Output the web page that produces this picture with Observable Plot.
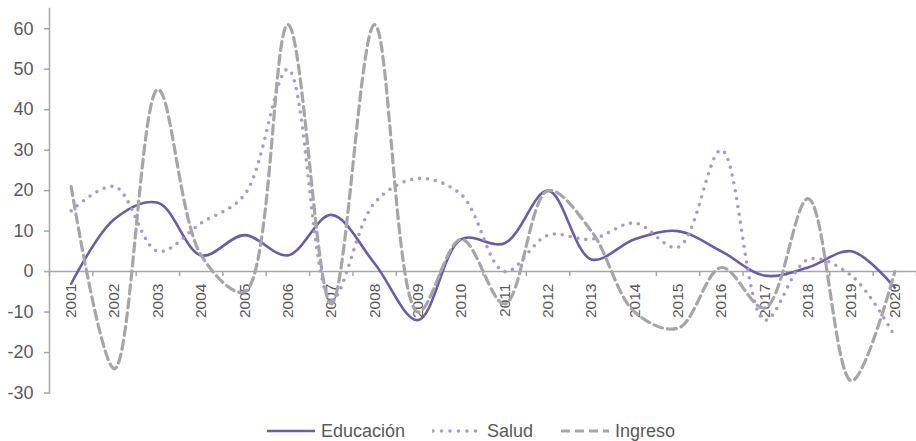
<!DOCTYPE html>
<html><head><meta charset="utf-8">
<script src="https://cdn.jsdelivr.net/npm/d3@7"></script>
<script src="https://cdn.jsdelivr.net/npm/@observablehq/plot@0.6"></script>
<style>
body{margin:0;background:#fff;font-family:"Liberation Sans",Arial,sans-serif;}
#legend{display:flex;justify-content:center;align-items:center;height:20px;margin-top:3px;font-size:18px;color:#595959;padding-left:25px}
.item{display:flex;align-items:center;margin-right:27px}
.item:last-child{margin-right:0}
.item svg{margin-right:5px}
</style></head><body>
<div id="chart"></div>
<div id="legend"></div>
<script>
const years = [2001,2002,2003,2004,2005,2006,2007,2008,2009,2010,2011,2012,2013,2014,2015,2016,2017,2018,2019,2020];
const educacion = [-3,13,17,4,9,4,14,2,-12,8,7,20,3,8,10,5,-1,1,5,-4];
const salud = [15,21,5,12,19,50,-7,17,23,19,0,9,8,12,6,30,-12,3,-1,-16];
const ingreso = [21,-24,45,4,-5,61,-8,61,-10,8,-8,20,10,-10,-14,1,-9,18,-27,0];
const yTicks = [-30,-20,-10,0,10,20,30,40,50,60];
const seriesNames = ["Educación","Salud","Ingreso"];
const seriesColors = ["#6b5ba8","#a999d3","#a6a6a8"];

const rows = [];
[educacion, salud, ingreso].forEach((vals, s) => {
  vals.forEach((v, i) => rows.push({serie: seriesNames[s], year: years[i], value: v}));
});
const boundaries = years.map(y => y - 0.5).concat([years[years.length-1] + 0.5]);
const axisGray = "#a6a6a6";
const textGray = "#595959";

const styles = {
  "Educación": {stroke: seriesColors[0], strokeWidth: 2.6},
  "Salud": {stroke: seriesColors[1], strokeWidth: 3.6, strokeDasharray: "0 8", strokeLinecap: "round"},
  "Ingreso": {stroke: seriesColors[2], strokeWidth: 3.2, strokeDasharray: "9 5"}
};

const plot = Plot.plot({
  width: 916, height: 418,
  marginLeft: 49, marginRight: 0, marginTop: 8, marginBottom: 25.5,
  x: {domain: [boundaries[0], boundaries[boundaries.length-1]], axis: null},
  y: {domain: [-30, 65], axis: null},
  style: {fontFamily: "'Liberation Sans', Arial, sans-serif", color: textGray, background: "#fff"},
  marks: [
    Plot.axisY({ticks: yTicks, tickSize: 5, tickPadding: 11, label: null, stroke: axisGray, fill: textGray, fontSize: 18, tickFormat: d => String(d), strokeWidth: 1.5}),
    Plot.frame({anchor: "left", stroke: axisGray, strokeWidth: 1.5}),
    Plot.ruleY([0], {stroke: axisGray, strokeWidth: 1.5}),
    Plot.ruleX(boundaries, {x: d => d, y1: () => 0, y2: () => 0, insetBottom: -5, stroke: axisGray, strokeWidth: 1.5}),
    Plot.text(years, {x: d => d, y: () => 0, text: d => String(d), rotate: -90, textAnchor: "end", dy: 12, fill: textGray, fontSize: 15.5}),
    ...seriesNames.map(name => Plot.line(rows.filter(r => r.serie === name), {x: "year", y: "value", curve: "catmull-rom", ...styles[name]}))
  ]
});
document.getElementById("chart").appendChild(plot);

const legend = document.getElementById("legend");
seriesNames.forEach(name => {
  const st = styles[name];
  const item = document.createElement("div");
  item.className = "item";
  item.innerHTML = `<svg width="50" height="10"><line x1="1" y1="5" x2="49" y2="5" stroke="${st.stroke}" stroke-width="${st.strokeWidth}" ${st.strokeDasharray ? `stroke-dasharray="${st.strokeDasharray === "0 8" ? "0 8.5" : st.strokeDasharray}"` : ""} ${st.strokeLinecap ? `stroke-linecap="${st.strokeLinecap}"` : ""}/></svg><span>${name}</span>`;
  legend.appendChild(item);
});
</script>
</body></html>
